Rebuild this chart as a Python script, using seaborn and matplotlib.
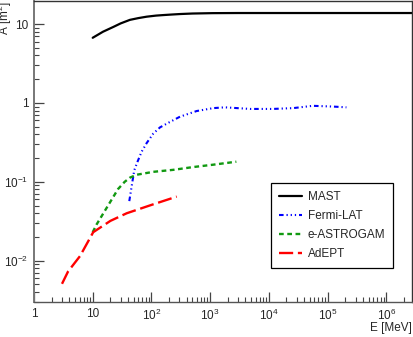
import numpy as np
import pandas as pd
import seaborn as sns
import matplotlib
matplotlib.use("Agg")
import matplotlib.pyplot as plt
from matplotlib.ticker import LogLocator, FuncFormatter, NullFormatter

# data (E in MeV, A in m^2)
mast_e = [10, 15, 22.5, 30, 43, 60, 83, 120, 160, 220, 310, 500, 1100,
          3000, 1e4, 1e5, 1e6, 3e6]
mast_a = [6.7, 8.0, 9.2, 10.2, 11.3, 11.9, 12.4, 12.8, 13.0, 13.2, 13.4,
          13.6, 13.75, 13.8, 13.8, 13.8, 13.8, 13.8]

fermi_e = [42, 46, 51, 58, 68, 83, 108, 140, 194, 307, 590, 1130, 1780,
           4800, 11700, 26000, 56000, 124000, 210000]
fermi_a = [0.057, 0.087, 0.14, 0.18, 0.24, 0.31, 0.41, 0.49, 0.56, 0.67,
           0.79, 0.86, 0.88, 0.84, 0.84, 0.86, 0.92, 0.90, 0.88]

astro_e = [10, 11.7, 20, 27, 35, 43, 56, 108, 236, 515, 1130, 2800]
astro_a = [0.023, 0.029, 0.056, 0.081, 0.10, 0.113, 0.123, 0.134, 0.142,
           0.154, 0.165, 0.18]

adept_e = [3, 3.8, 6.1, 10.2, 20, 38, 100, 270]
adept_a = [0.0051, 0.0073, 0.0115, 0.023, 0.032, 0.040, 0.051, 0.065]

sns.set_style("white")
plt.rcParams['font.family'] = ['Liberation Sans', 'DejaVu Sans']
plt.rcParams['mathtext.fontset'] = 'custom'
plt.rcParams['mathtext.rm'] = 'Liberation Sans'
plt.rcParams['mathtext.it'] = 'Liberation Sans'

fig = plt.figure(figsize=(4.14, 3.37), dpi=100)
ax = fig.add_axes([34 / 414, 35 / 337, 378 / 414, 301 / 337])
ax.set(xscale='log', yscale='log')

sns.lineplot(x=mast_e, y=mast_a, ax=ax, color='black', lw=1.6,
             label='MAST', sort=False)
sns.lineplot(x=fermi_e, y=fermi_a, ax=ax, color='#0000ff', lw=1.5,
             linestyle=(0, (2.2, 1.4, 0.6, 1.4, 0.6, 1.4, 0.6, 1.4)),
             label='Fermi-LAT', sort=False)
sns.lineplot(x=astro_e, y=astro_a, ax=ax, color='#119911', lw=1.7,
             linestyle=(0, (2.0, 1.5)), label='e-ASTROGAM', sort=False)
sns.lineplot(x=adept_e, y=adept_a, ax=ax, color='#ff0000', lw=1.7,
             linestyle=(0, (6.0, 2.0)), label='AdEPT', sort=False)

ax.set_xlim(1, 2.75e6)
ax.set_ylim(0.003, 19.6)


def fmt(v, pos):
    p = int(round(np.log10(v)))
    if p == 0:
        return '1'
    if p == 1:
        return '10'
    return r'$\mathregular{10^{%d}}$' % p


ax.xaxis.set_major_locator(LogLocator(base=10, numticks=20))
ax.yaxis.set_major_locator(LogLocator(base=10, numticks=20))
ax.xaxis.set_minor_locator(LogLocator(base=10, subs=np.arange(2, 10), numticks=20))
ax.yaxis.set_minor_locator(LogLocator(base=10, subs=np.arange(2, 10), numticks=20))
ax.xaxis.set_major_formatter(FuncFormatter(fmt))
ax.yaxis.set_major_formatter(FuncFormatter(fmt))
ax.xaxis.set_minor_formatter(NullFormatter())
ax.yaxis.set_minor_formatter(NullFormatter())

ax.tick_params(which='both', direction='in', bottom=True, left=True,
               top=False, right=False, labelsize=8.5, color='#444444')
ax.tick_params(which='major', length=7, width=0.9, pad=4)
ax.tick_params(which='minor', length=3.5, width=0.8)

for s in ax.spines.values():
    s.set_color('#333333')
    s.set_linewidth(1.0)
ax.spines['left'].set_color('#777777')
ax.spines['bottom'].set_color('#555555')
ax.spines['left'].set_linewidth(1.4)

ax.set_xlabel('E [MeV]', loc='right', fontsize=8.5)
ax.xaxis.set_label_coords(1.0, -0.068)
ax.set_ylabel(r'A [m$^{\mathregular{2}}$]', loc='top', fontsize=8.5)
ax.yaxis.set_label_coords(-0.052, 1.0)

leg = ax.legend(loc='upper left', bbox_to_anchor=(0.627, 0.397), fontsize=8.5,
                borderaxespad=0, frameon=True, fancybox=False,
                handlelength=1.9, handletextpad=0.5, labelspacing=0.6,
                borderpad=0.7)
leg.get_frame().set_edgecolor('black')
leg.get_frame().set_linewidth(0.9)
leg.get_frame().set_alpha(1)

fig.savefig('out.png', dpi=100)
